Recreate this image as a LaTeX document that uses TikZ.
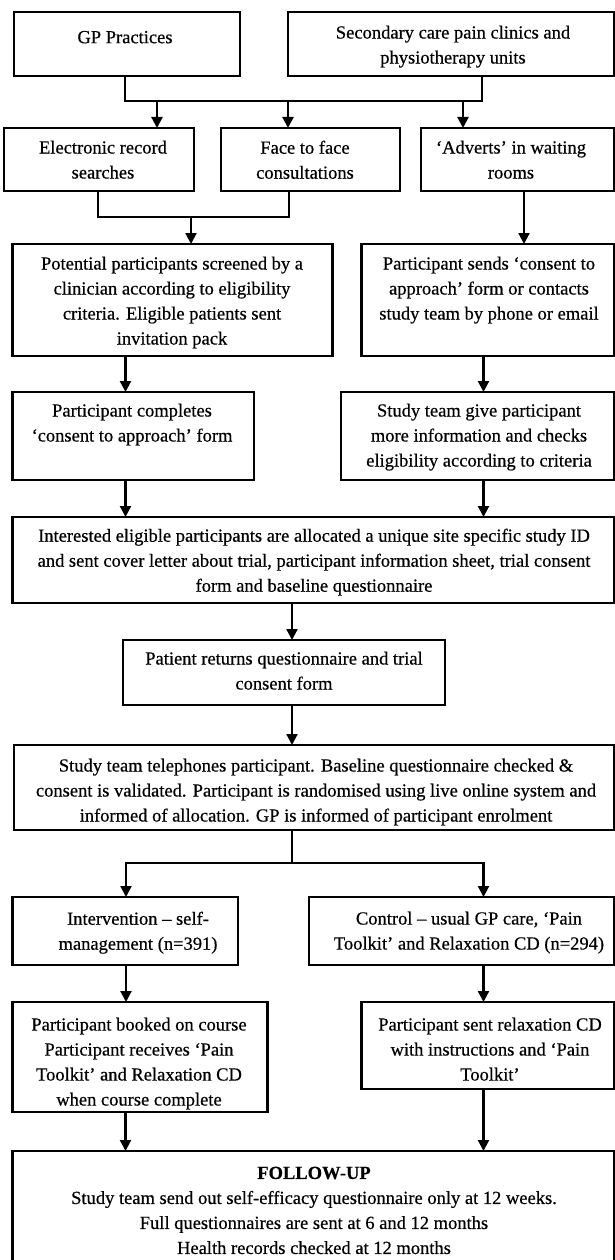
\documentclass[tikz,border=0pt]{standalone}
\usepackage{fontspec}
\setmainfont{Liberation Serif}[FakeBold=0.5]
\usetikzlibrary{arrows.meta,calc}
\begin{document}
\begin{tikzpicture}[x=1pt,y=-1pt,
  bx/.style={draw=black,line width=2.2pt,inner sep=0pt,outer sep=0pt,anchor=north west,rectangle},
  tx/.style={anchor=north,align=center,inner sep=0pt,font=\fontsize{18.5}{25}\selectfont,execute at begin node=\strut,yshift=-6pt},
  ln/.style={line width=2.2pt},
  arr/.style={line width=2.2pt,-{Triangle[length=11pt,width=11pt]}}]
\useasboundingbox (0,0) rectangle (615,1260);
\clip (0,0) rectangle (615,1260);
% boxes
\node[bx,minimum width=226pt,minimum height=64pt] (gp) at (14,12) {};
\node[bx,minimum width=326pt,minimum height=64pt] (sec) at (288,12) {};
\node[bx,minimum width=190pt,minimum height=63pt] (elec) at (4,128) {};
\node[bx,minimum width=179pt,minimum height=63pt] (face) at (221,128) {};
\node[bx,minimum width=193pt,minimum height=63pt] (adv) at (421,128) {};
\node[bx,minimum width=320pt,minimum height=112pt] (pot) at (12.5,244) {};
\node[bx,minimum width=252.5pt,minimum height=112pt] (sends) at (361.5,244) {};
\node[bx,minimum width=241.5pt,minimum height=88pt] (compl) at (12.5,392) {};
\node[bx,minimum width=273pt,minimum height=88pt] (give) at (341,392) {};
\node[bx,minimum width=601.5pt,minimum height=86pt] (inter) at (12.5,517) {};
\node[bx,minimum width=322pt,minimum height=65pt] (ret) at (123,640) {};
\node[bx,minimum width=600pt,minimum height=85pt] (tel) at (14,745) {};
\node[bx,minimum width=225.5pt,minimum height=68pt] (intv) at (12.5,897) {};
\node[bx,minimum width=305pt,minimum height=68pt] (ctrl) at (309,897) {};
\node[bx,minimum width=255pt,minimum height=110pt] (booked) at (12.5,1002) {};
\node[bx,minimum width=252.5pt,minimum height=87pt] (sent) at (361.5,1002) {};
\node[bx,minimum width=601.5pt,minimum height=114pt] (fu) at (12.5,1151) {};
% texts
\node[tx] (gpt) at (125,19.5) {GP Practices};
\node[tx] (sect) at (453,19.5) {Secondary care pain clinics and\\physiotherapy units};
\node[tx] (elect) at (103,134.5) {Electronic record\\searches};
\node[tx] (facet) at (305,134.5) {Face to face\\consultations};
\node[tx] (advt) at (511,134.5) {‘Adverts’ in waiting\\rooms};
\node[tx] (pott) at (172,250.5) {Potential participants screened by a\\clinician according to eligibility\\criteria. Eligible patients sent\\invitation pack};
\node[tx] (sendst) at (489,250.5) {Participant sends ‘consent to\\approach’ form or contacts\\study team by phone or email};
\node[tx] (complt) at (132,397.5) {Participant completes\\‘consent to approach’ form};
\node[tx] (givet) at (479,397.5) {Study team give participant\\more information and checks\\eligibility according to criteria};
\node[tx] (intert) at (314,522.5) {Interested eligible participants are allocated a unique site specific study ID\\and sent cover letter about trial, participant information sheet, trial consent\\form and baseline questionnaire};
\node[tx] (rett) at (284,645.5) {Patient returns questionnaire and trial\\consent form};
\node[tx] (telt) at (316,752.5) {Study team telephones participant. Baseline questionnaire checked \&\\consent is validated. Participant is randomised using live online system and\\informed of allocation. GP is informed of participant enrolment};
\node[tx] (intvt) at (138,905.5) {Intervention – self-\\management (n=391)};
\node[tx] (ctrlt) at (469,905.5) {Control – usual GP care, ‘Pain\\Toolkit’ and Relaxation CD (n=294)};
\node[tx] (bookedt) at (139,1011.5) {Participant booked on course\\Participant receives ‘Pain\\Toolkit’ and Relaxation CD\\when course complete};
\node[tx] (sentt) at (490,1011.5) {Participant sent relaxation CD\\with instructions and ‘Pain\\Toolkit’};
\node[tx] (fut) at (314,1160.5) {\textbf{FOLLOW-UP}\\Study team send out self-efficacy questionnaire only at 12 weeks.\\Full questionnaires are sent at 6 and 12 months\\Health records checked at 12 months};
% connectors
\coordinate (j1) at (125,101);
\coordinate (j2) at (482,101);
\coordinate (a1) at (157,101);
\coordinate (a2) at (288,101);
\coordinate (a3) at (463,101);
\draw[ln] (gp.south -| j1) -- (j1) -- (j2) -- (sec.south -| j2);
\draw[arr] (a1) -- (a1 |- elec.north);
\draw[arr] (a2) -- (a2 |- face.north);
\draw[arr] (a3) -- (a3 |- adv.north);
\coordinate (k1) at (98,217);
\coordinate (k2) at (289,217);
\coordinate (k3) at (191,217);
\draw[ln] (elec.south -| k1) -- (k1) -- (k2) -- (face.south -| k2);
\draw[arr] (k3) -- (k3 |- pot.north);
\coordinate (c1) at (524,0);
\draw[arr] (adv.south -| c1) -- (sends.north -| c1);
\coordinate (c2) at (125.5,0);
\coordinate (c3) at (483.5,0);
\draw[arr] (pot.south -| c2) -- (compl.north -| c2);
\draw[arr] (sends.south -| c3) -- (give.north -| c3);
\draw[arr] (compl.south -| c2) -- (inter.north -| c2);
\draw[arr] (give.south -| c3) -- (inter.north -| c3);
\coordinate (c4) at (292,0);
\draw[arr] (inter.south -| c4) -- (ret.north -| c4);
\draw[arr] (ret.south -| c4) -- (tel.north -| c4);
\coordinate (m0) at (292,863);
\coordinate (m1) at (126,863);
\coordinate (m2) at (483.5,863);
\draw[ln] (tel.south -| m0) -- (m0);
\draw[arr] (m0) -- (m1) -- (m1 |- intv.north);
\draw[arr] (m0) -- (m2) -- (m2 |- ctrl.north);
\draw[arr] (intv.south -| m1) -- (booked.north -| m1);
\draw[arr] (ctrl.south -| c3) -- (sent.north -| c3);
\draw[arr] (booked.south -| c2) -- (fu.north -| c2);
\draw[arr] (sent.south -| c3) -- (fu.north -| c3);
\end{tikzpicture}
\end{document}
